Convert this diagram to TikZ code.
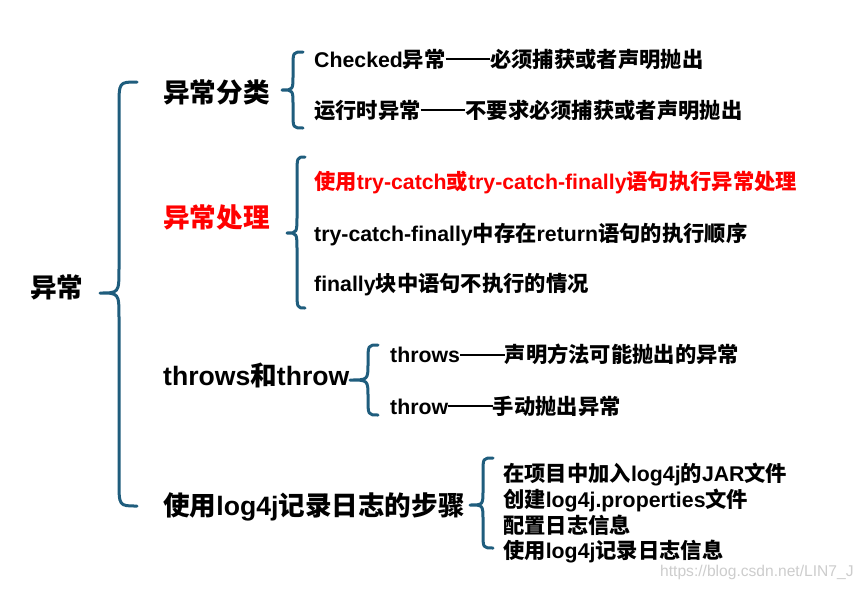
\documentclass[tikz,border=0pt]{standalone}
\usepackage{fontspec}
\setmainfont{Liberation Sans}
\newfontfamily\cj{Noto Sans CJK SC}
\newcommand\zh[1]{{\cj #1}}
\newcommand\dd{\rule[0.33em]{2.1em}{0.11em}}
\definecolor{bracec}{RGB}{31,93,125}
\definecolor{wmgray}{RGB}{205,205,205}
\newcommand\brc[7]{\draw[br] (#1,#2) .. controls (#3,#2) .. (#3,#2+#7) -- (#3,#5-#7) .. controls (#3,#5) .. (#4,#5) .. controls (#3,#5) .. (#3,#5+#7) -- (#3,#6-#7) .. controls (#3,#6) .. (#1,#6);}
\begin{document}
\begin{tikzpicture}[x=1pt,y=-1pt,
  br/.style={draw=bracec, line width=3pt, line join=round, line cap=round},
  lvA/.style={anchor=base west, inner sep=0pt, font=\fontsize{26.6}{30}\selectfont\bfseries},
  lvB/.style={anchor=base west, inner sep=0pt, font=\fontsize{21.3}{25}\selectfont\bfseries},
  wm/.style={anchor=base west, inner sep=0pt, text=wmgray, font=\fontsize{15.6}{18}\selectfont}]
\useasboundingbox[fill=white] (0,0) rectangle (865,592);

% braces
\brc{137}{82}{119}{100}{293}{506}{25}
\brc{303}{52}{293}{282}{90}{128}{15}
\brc{305}{157}{297}{287}{233}{308}{18}
\brc{378}{345}{368}{350}{380}{415}{17}
\brc{493}{458}{483}{470}{505}{548}{15}

% level 0
\node[lvA] (root) at (30,297.8) {\zh{异常}};

% level 1
\node[lvA] (cls) at (163,102.3) {\zh{异常分类}};
\node[lvA, text=red] (hdl) at (163,227.8) {\zh{异常处理}};
\node[lvA] (thr) at (163,385.5) {throws\zh{和}throw};
\node[lvA] (log) at (163,515) {\zh{使用}log4j\zh{记录日志的步骤}};

% level 2
\node[lvB] (c1) at (314,67.4) {Checked\zh{异常}\dd\zh{必须捕获或者声明抛出}};
\node[lvB] (c2) at (314,118.4) {\zh{运行时异常}\dd\zh{不要求必须捕获或者声明抛出}};
\node[lvB, text=red] (h1) at (314,189.9) {\zh{使用}try-catch\zh{或}try-catch-finally\zh{语句执行异常处理}};
\node[lvB] (h2) at (314,241.4) {try-catch-finally\zh{中存在}return\zh{语句的执行顺序}};
\node[lvB] (h3) at (314,291.9) {finally\zh{块中语句不执行的情况}};
\node[lvB] (t1) at (390,362.9) {throws\dd\zh{声明方法可能抛出的异常}};
\node[lvB] (t2) at (390,414.4) {throw\dd\zh{手动抛出异常}};
\node[lvB] (l1) at (503,481.9) {\zh{在项目中加入}log4j\zh{的}JAR\zh{文件}};
\node[lvB] (l2) at (503,507.9) {\zh{创建}log4j.properties\zh{文件}};
\node[lvB] (l3) at (503,533.4) {\zh{配置日志信息}};
\node[lvB] (l4) at (503,558.9) {\zh{使用}log4j\zh{记录日志信息}};

% watermark
\node[wm] (wmk) at (660,576) {https://blog.csdn.net/LIN7\_J};
\end{tikzpicture}
\end{document}
